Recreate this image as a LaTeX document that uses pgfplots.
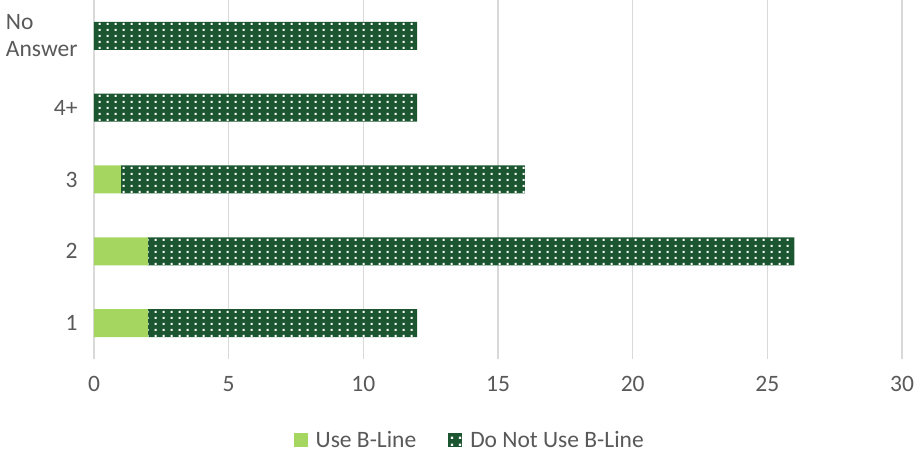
\documentclass[border=0pt]{standalone}
\usepackage{pgfplots}
\pgfplotsset{compat=1.18}
\usetikzlibrary{patterns.meta}
\usepackage{fontspec}
\setmainfont{Carlito}
\definecolor{lightg}{HTML}{A5D65F}
\definecolor{darkg}{HTML}{1B5631}
\definecolor{txt}{HTML}{595959}
\definecolor{gridc}{HTML}{D9D9D9}
\tikzdeclarepattern{
  name=wdots, type=uncolored,
  bottom left={(0pt,0pt)}, top right={(8pt,6.4pt)},
  tile size={(8pt,6.4pt)},
  code={\pgfpathrectangle{\pgfpoint{3pt}{2.2pt}}{\pgfpoint{2.3pt}{2.3pt}}\pgfusepath{fill}}
}
\begin{document}
\begin{tikzpicture}
\begin{axis}[
  scale only axis, width=808pt, height=359pt,
  xbar stacked, bar width=28pt,
  xmin=0, xmax=30, ymin=0.5, ymax=5.5,
  ytick={1,...,5}, yticklabels={1,2,3,4+,{No\\Answer}},
  xtick={0,5,...,30},
  axis line style={draw=none}, major tick length=0pt,
  xmajorgrids, grid style={gridc, line width=1.5pt},
  /pgf/number format/assume math mode=true,
  tick label style={font=\fontsize{23.5}{27}\selectfont, text=txt},
  yticklabel style={align=left, xshift=-13pt},
  xticklabel style={yshift=-14pt},
  legend style={at={(0.465,-0.2256)}, anchor=center, draw=none, legend columns=-1,
    font=\fontsize{23.5}{27}\selectfont, text=txt,
    /tikz/every odd column/.append style={column sep=6pt},
    /tikz/every even column/.append style={column sep=30pt}},
  legend image code/.code={\draw[#1, draw=none] (0pt,-7pt) rectangle (14pt,7pt);},
]
\addplot[fill=lightg, draw=none] coordinates {(2,1) (2,2) (1,3) (0,4) (0,5)};
\addplot[fill=darkg, draw=none, postaction={pattern={wdots}, pattern color=white}]
  coordinates {(10,1) (24,2) (15,3) (12,4) (12,5)};
\legend{Use B-Line, Do Not Use B-Line}
\end{axis}
\pgfresetboundingbox
\path (current axis.south west) +(-94pt,-101pt) (current axis.north east) +(20pt,0pt);
\end{tikzpicture}
\end{document}
